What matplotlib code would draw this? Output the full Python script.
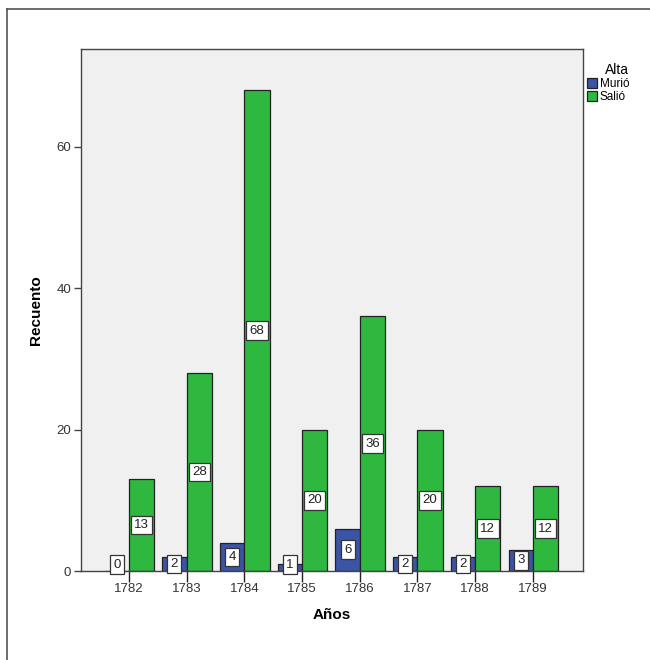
import matplotlib
matplotlib.use('Agg')
import matplotlib.pyplot as plt
from matplotlib.lines import Line2D
import numpy as np

# data
years = ['1782', '1783', '1784', '1785', '1786', '1787', '1788', '1789']
murio = [0, 2, 4, 1, 6, 2, 2, 3]
salio = [13, 28, 68, 20, 36, 20, 12, 12]
series_names = ['Murió', 'Salió']
legend_title = 'Alta'

blue = '#3b54a6'
green = '#2eb840'

plt.rcParams['font.family'] = ['Liberation Sans', 'DejaVu Sans']

fig = plt.figure(figsize=(6.5, 6.6), dpi=100)
ax = fig.add_axes([81 / 650, 1 - 571 / 660, 502 / 650, 522 / 660])
ax.set_facecolor('#f0f0f0')

x = np.arange(len(years))
w = 0.42
ax.bar(x, murio, width=-w, align='edge', color=blue, edgecolor='#222222',
       linewidth=0.9, label=series_names[0], zorder=2)
ax.bar(x, salio, width=w + 0.02, align='edge', color=green, edgecolor='#222222',
       linewidth=0.9, label=series_names[1], zorder=2)

box = dict(boxstyle='square,pad=0.25', fc='white', ec='#333333', lw=0.9)
for i in range(len(years)):
    ax.text(x[i] - w / 2, max(murio[i] / 2, 0.9), str(murio[i]), ha='center',
            va='center', fontsize=9.5, bbox=box, zorder=4, color='#222222')
    ax.text(x[i] + w / 2 + 0.01, salio[i] / 2, str(salio[i]), ha='center',
            va='center', fontsize=9.5, bbox=box, zorder=4, color='#222222')

ax.set_xlim(-0.83, 7.87)
ax.set_ylim(0, 73.8)
ax.set_xticks(x)
ax.set_xticklabels(years)
ax.set_yticks([0, 20, 40, 60])
ax.tick_params(axis='x', length=8, width=1, labelsize=9.5, pad=1,
               color='#222222', labelcolor='#333333')
ax.tick_params(axis='y', length=5, width=1, labelsize=9.5, pad=2,
               color='#444444', labelcolor='#333333')
for s in ax.spines.values():
    s.set_color('#444444')
    s.set_linewidth(1)

ax.set_xlabel('Años', fontsize=11, fontweight='bold', labelpad=9)
ax.set_ylabel('Recuento', fontsize=11, fontweight='bold', labelpad=10)

leg = ax.legend(title=legend_title, loc='upper left', bbox_to_anchor=(1.0, 0.98),
                frameon=False, fontsize=8.5, title_fontsize=10, handlelength=0.9,
                handleheight=0.9, handletextpad=0.2, labelspacing=0.1,
                borderaxespad=0.2, borderpad=0.1)
leg._legend_box.align = 'right'

# outer frame (left and top visible)
fig.add_artist(Line2D([7 / 650, 7 / 650], [0, 1 - 9 / 660], color='#555555',
                      lw=1.2, transform=fig.transFigure))
fig.add_artist(Line2D([7 / 650, 1], [1 - 9 / 660, 1 - 9 / 660], color='#555555',
                      lw=1.2, transform=fig.transFigure))

fig.savefig('out.png', dpi=100)
plt.close(fig)
